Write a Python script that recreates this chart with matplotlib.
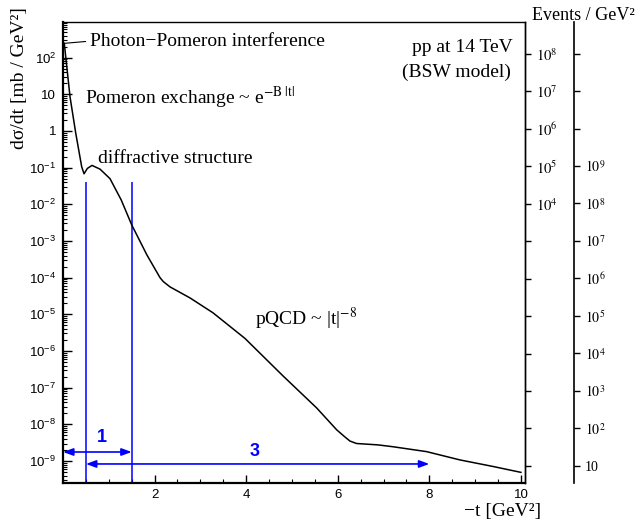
import matplotlib
matplotlib.use("Agg")
import matplotlib.pyplot as plt
from matplotlib.ticker import LogLocator, NullFormatter, NullLocator, MultipleLocator

# elastic pp cross section (BSW model)
t_vals = [0.028, 0.066, 0.153, 0.277, 0.408, 0.459, 0.531, 0.633, 0.808, 1.026,
          1.27, 1.5, 1.83, 2.0, 2.118, 2.19, 2.336, 2.773, 3.275, 3.974,
          4.803, 5.539, 5.976, 6.15, 6.266, 6.41, 6.878, 7.205, 7.941, 8.668,
          9.389, 10.0]
dsdt_vals = [245, 87, 8.5, 0.88, 0.105, 0.068, 0.095, 0.115, 0.091, 0.05,
             1.32e-2, 2.75e-3, 4.2e-4, 1.8e-4, 1.0e-4, 7.8e-5, 5.6e-5, 2.8e-5, 1.1e-5, 2.2e-6,
             2.1e-7, 2.8e-8, 7.1e-9, 4.6e-9, 3.5e-9, 3.0e-9, 2.75e-9, 2.45e-9, 1.8e-9, 1.07e-9,
             7.1e-10, 4.9e-10]

left_exps = list(range(-9, 3))
events1_exps = list(range(-3, 9))      # first event axis, labelled from 10^4 up
events2_exps = list(range(1, 13))      # second event axis, labelled up to 10^9
x_major = [2, 4, 6, 8, 10]

band_edges = [0.5, 1.5]
band_top = 4.1e-2
arrow1 = (0.0, 1.5, 1.76e-9)
arrow3 = (0.5, 8.0, 8.3e-10)

plt.rcParams['font.family'] = 'Liberation Serif'
plt.rcParams['mathtext.fontset'] = 'stix'
plt.rcParams['mathtext.rm'] = 'Liberation Sans'
plt.rcParams['mathtext.it'] = 'Liberation Sans:italic'
plt.rcParams['mathtext.bf'] = 'Liberation Sans:bold'

fig = plt.figure(figsize=(6.36, 5.25), dpi=100)
ax = fig.add_axes([0.0991, 0.08, 0.7264, 0.878])

ax.plot(t_vals, dsdt_vals, color='black', lw=1.1, zorder=3)
ax.set_yscale('log')
ax.set_xlim(0, 10.09)
ax.set_ylim(10**-9.6, 10**2.97)

# blue region markers
blue = '#0000ff'
ax.vlines(band_edges, 10**-9.6, band_top, color=blue, lw=1.1, zorder=2)
arrow_kw = dict(arrowstyle='<|-|>,head_length=0.6,head_width=0.22',
                color=blue, lw=1.2, shrinkA=0, shrinkB=0)
ax.annotate('', xy=(arrow1[1], arrow1[2]), xytext=(arrow1[0], arrow1[2]), arrowprops=arrow_kw)
ax.annotate('', xy=(arrow3[1], arrow3[2]), xytext=(arrow3[0], arrow3[2]), arrowprops=arrow_kw)
ax.text(0.85, 4.5e-9, '1', color=blue, fontfamily='Liberation Sans', fontweight='bold',
        fontsize=13, ha='center', va='center')
ax.text(4.19, 1.8e-9, '3', color=blue, fontfamily='Liberation Sans', fontweight='bold',
        fontsize=13, ha='center', va='center')

# left axis
left_labels = []
for e in left_exps:
    if e == 0:
        left_labels.append('1')
    elif e == 1:
        left_labels.append('10')
    else:
        left_labels.append('$10^{%d}$' % e)
ax.set_yticks([10.0**e for e in left_exps], left_labels, fontfamily='Liberation Sans',
              math_fontfamily='custom', fontsize=9.5)
ax.yaxis.set_minor_locator(LogLocator(base=10, subs=range(2, 10), numticks=30))
ax.yaxis.set_minor_formatter(NullFormatter())
ax.tick_params(axis='y', which='major', direction='in', length=6.5, width=1, pad=5,
               left=True, right=False)
ax.tick_params(axis='y', which='minor', direction='in', length=3, width=0.8,
               left=True, right=False)

# bottom axis
ax.set_xticks(x_major, [str(v) for v in x_major], fontfamily='Liberation Sans', fontsize=9.5)
ax.xaxis.set_minor_locator(MultipleLocator(0.5))
ax.tick_params(axis='x', which='major', direction='in', length=6, width=1, pad=4,
               bottom=True, top=False)
ax.tick_params(axis='x', which='minor', direction='in', length=3, width=0.8,
               bottom=True, top=False)

for side in ['left', 'bottom']:
    ax.spines[side].set_linewidth(1.6)
for side in ['top', 'right']:
    ax.spines[side].set_linewidth(1.0)

# event axes on the right
ax3 = ax.twinx()
ax3.set_yscale('log')
ax3.set_ylim(10**-3.456, 10**8.854)
ax3.set_yticks([10.0**e for e in events1_exps],
               ['$10^{%d}$' % e if e >= 4 else '' for e in events1_exps],
               math_fontfamily='stix', fontsize=10.5)
ax3.yaxis.set_minor_locator(NullLocator())
ax3.tick_params(axis='y', direction='out', length=4, width=1, pad=4)
for side in ['left', 'top', 'bottom']:
    ax3.spines[side].set_visible(False)
ax3.spines['right'].set_linewidth(1.0)

ax4 = ax.twinx()
ax4.set_yscale('log')
ax4.set_ylim(10**0.535, 10**12.845)
ev2_labels = []
for e in events2_exps:
    if e == 1:
        ev2_labels.append('10')
    elif e <= 9:
        ev2_labels.append('$10^{%d}$' % e)
    else:
        ev2_labels.append('')
ax4.set_yticks([10.0**e for e in events2_exps], ev2_labels, math_fontfamily='stix', fontsize=10.5)
ax4.yaxis.set_minor_locator(NullLocator())
ax4.tick_params(axis='y', direction='out', length=4, width=1, pad=4)
ax4.spines['right'].set_position(('axes', 1.106))
ax4.spines['right'].set_linewidth(1.2)
for side in ['left', 'top', 'bottom']:
    ax4.spines[side].set_visible(False)

# annotations
ax.annotate('Photon\u2212Pomeron interference', xy=(t_vals[0], dsdt_vals[0]),
            xytext=(0.058, 0.947), textcoords='axes fraction', fontsize=14, va='baseline',
            arrowprops=dict(arrowstyle='-', lw=0.8, color='black', shrinkA=1, shrinkB=0,
                            relpos=(0, 0.55)))
ax.text(0.048, 0.822, 'Pomeron exchange ~ e$^{\\mathrm{-B\\ |t|}}$', transform=ax.transAxes,
        fontsize=14, va='baseline')
ax.text(0.076, 0.694, 'diffractive structure', transform=ax.transAxes, fontsize=14, va='baseline')
ax.text(0.974, 0.936, 'pp at 14 TeV', transform=ax.transAxes, fontsize=14, va='baseline', ha='right')
ax.text(0.970, 0.881, '(BSW model)', transform=ax.transAxes, fontsize=14, va='baseline', ha='right')
ax.text(0.4156, 0.343, 'pQCD ~ |t|$^{\\mathrm{-8}}$', transform=ax.transAxes, fontsize=14,
        va='baseline')

fig.text(0.031, 0.851, 'd\u03c3/dt [mb / GeV\u00b2]', rotation=90, fontsize=14,
         ha='center', va='center')
fig.text(0.998, 0.962, 'Events / GeV\u00b2', fontsize=13, ha='right', va='baseline')
fig.text(0.851, 0.017, '\u2212t [GeV\u00b2]', fontsize=14, ha='right', va='baseline')

fig.savefig('out.png', dpi=100)
